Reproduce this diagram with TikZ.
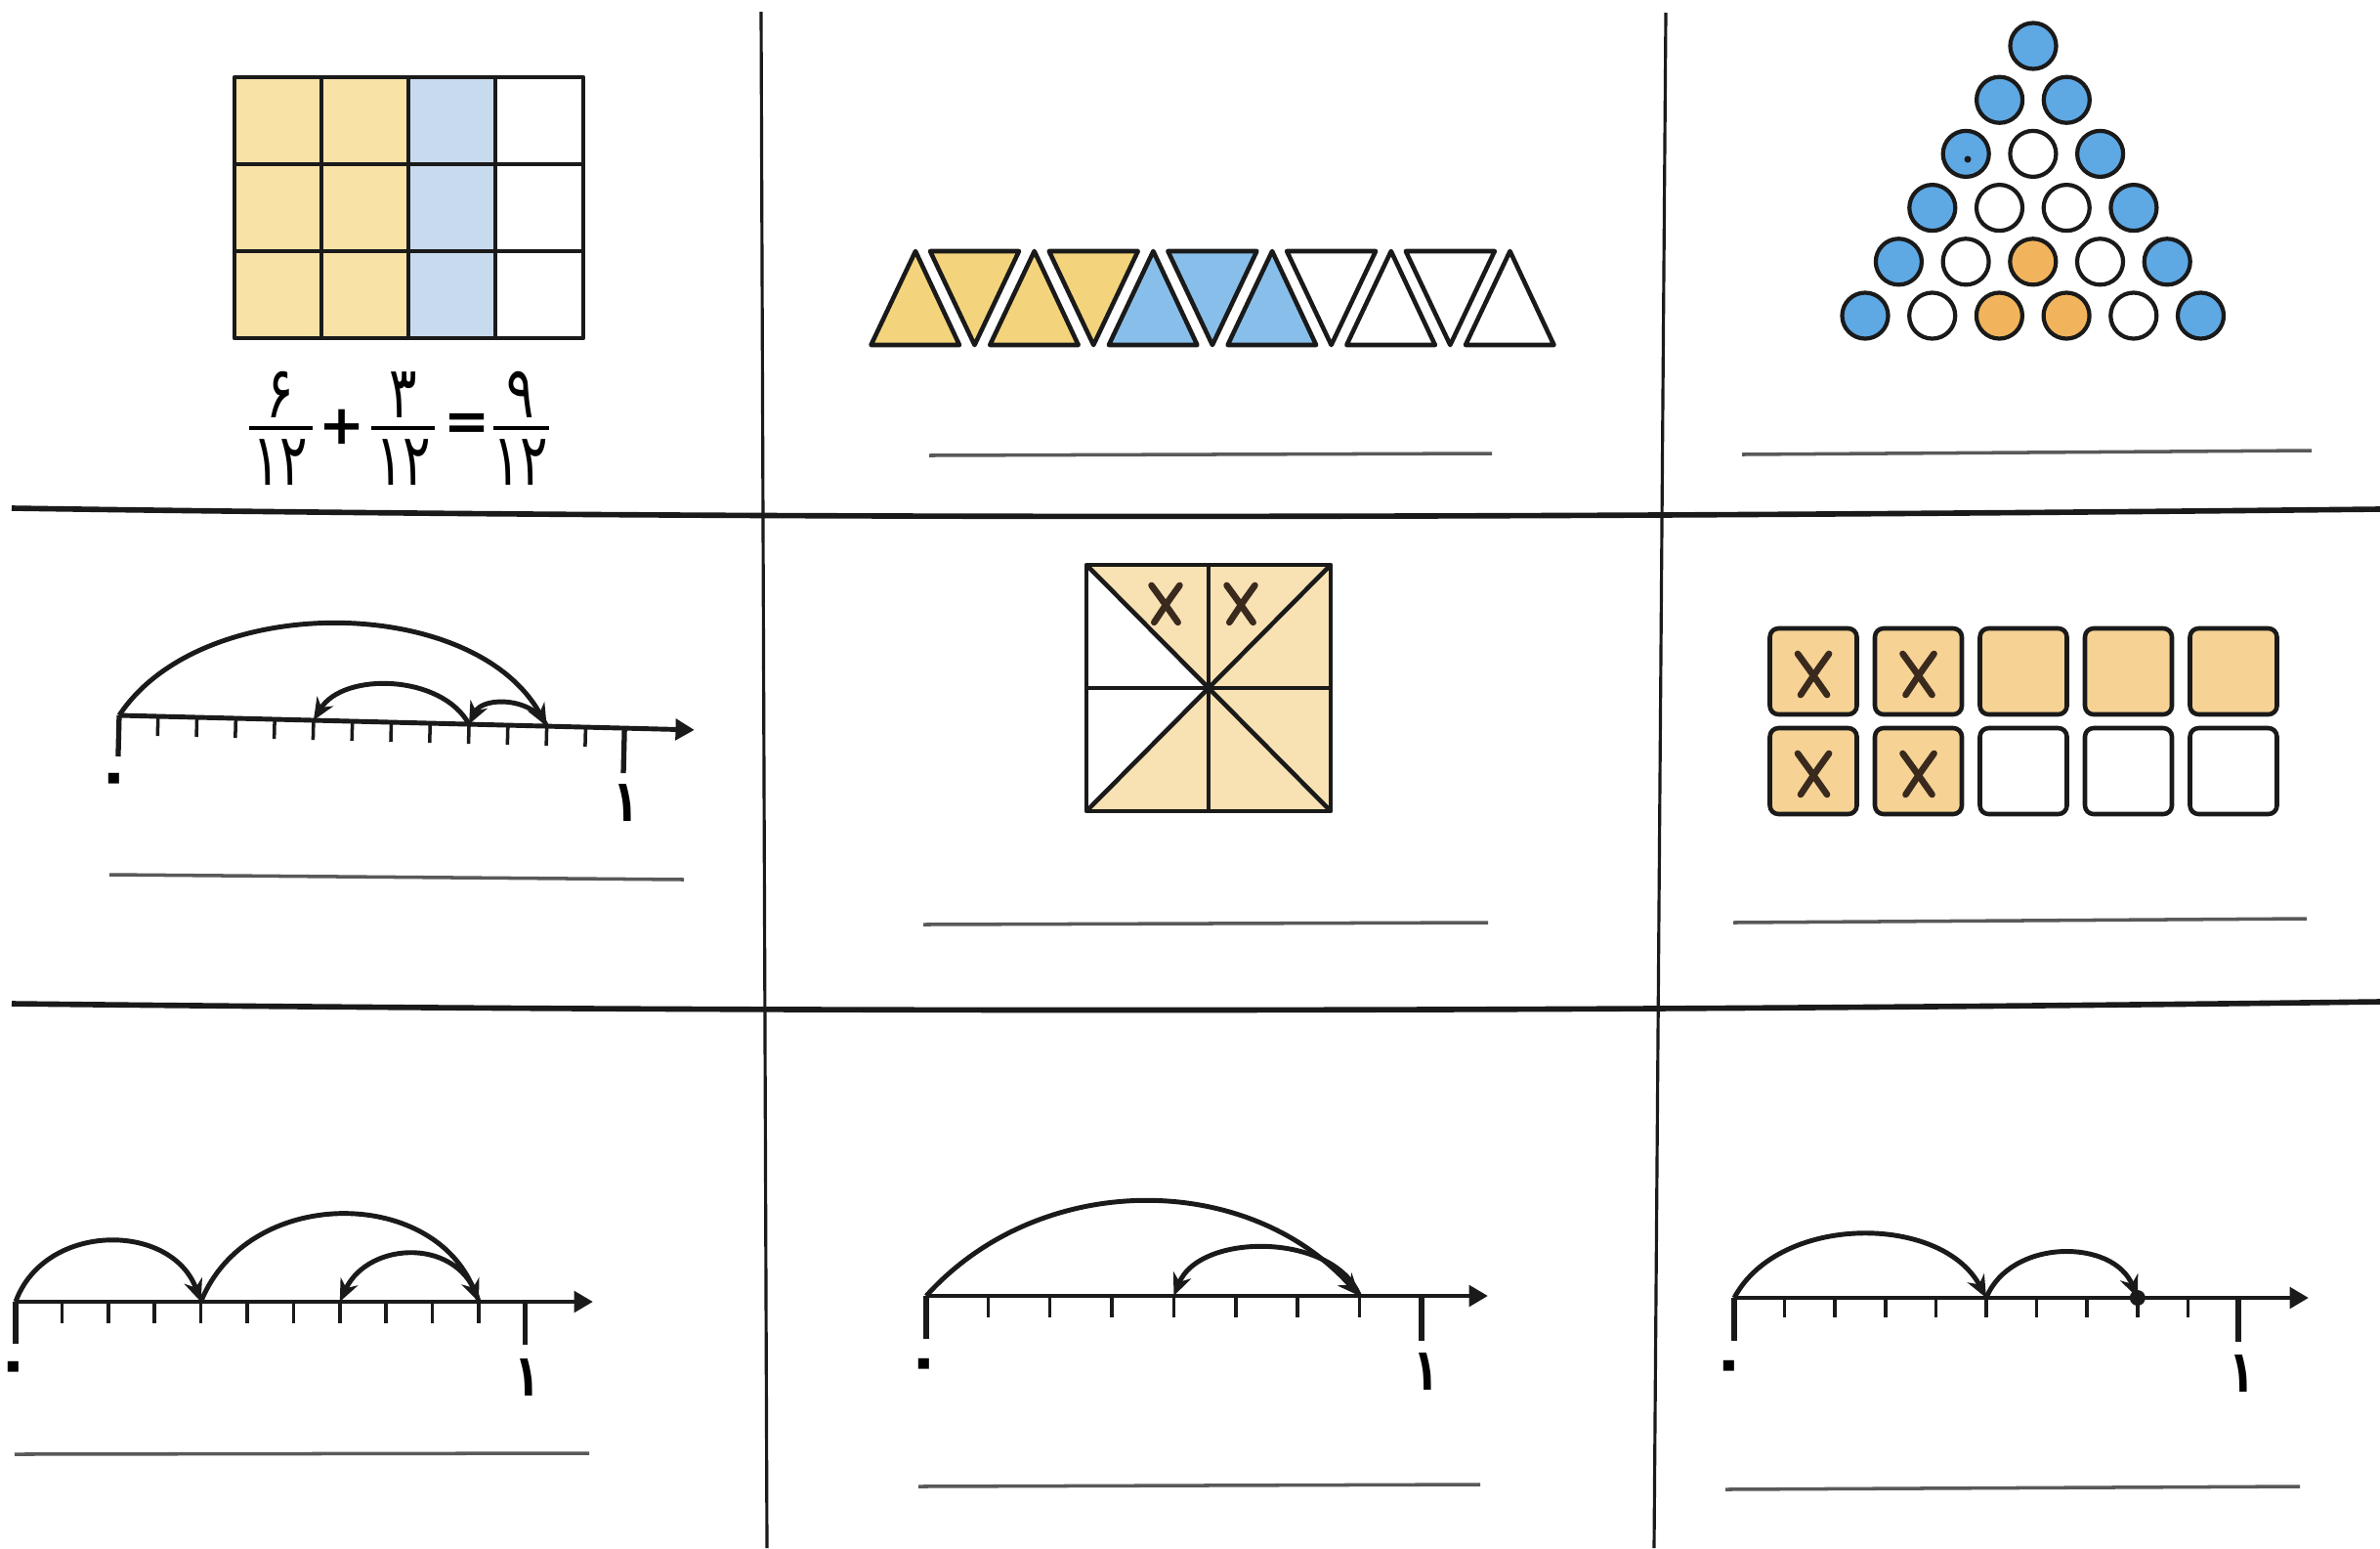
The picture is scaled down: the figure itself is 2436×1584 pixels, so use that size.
\documentclass[tikz,border=0pt]{standalone}
\usepackage{fontspec}
\newfontfamily\fa[Script=Arabic]{DejaVu Sans}
\newfontfamily\fan[Script=Arabic,FakeStretch=0.72]{DejaVu Sans}
\usetikzlibrary{arrows.meta}
\definecolor{ink}{HTML}{1A1A1A}
\definecolor{gridyel}{HTML}{F8E2A6}
\definecolor{gridblue}{HTML}{C8DBEE}
\definecolor{triyel}{HTML}{F3D47C}
\definecolor{triblue}{HTML}{88BFEA}
\definecolor{cB}{HTML}{5EA8E4}
\definecolor{cO}{HTML}{F1B45C}
\definecolor{cW}{HTML}{FFFFFF}
\definecolor{peach}{HTML}{F8E1B2}
\definecolor{tileyel}{HTML}{F6D394}
\definecolor{xink}{HTML}{3A2A1E}
\begin{document}
\begin{tikzpicture}[x=0.01cm,y=0.01cm,line join=round,
  frame/.style={line width=0.9pt,draw=ink},
  hrule/.style={line width=1.6pt,draw=ink},
  outl/.style={line width=1.3pt,draw=ink},
  ans/.style={line width=1pt,draw=black!65},
  axis/.style={line width=1.4pt,draw=ink,-{Triangle[length=5.5pt,width=6pt]}},
  tickm/.style={line width=1pt,draw=ink},
  bigtick/.style={line width=1.5pt,draw=ink},
  jump/.style={line width=1.4pt,draw=ink,-{Stealth[length=6.5pt,width=5.5pt]}},
  digit/.style={font=\fan\fontsize{21}{23}\selectfont,inner sep=0pt},
  sym/.style={font=\fa\bfseries\fontsize{16}{18}\selectfont,inner sep=0pt},
  lab/.style={font=\fan\bfseries\fontsize{17}{19}\selectfont,inner sep=0pt},
  zlab/.style={font=\fa\bfseries\fontsize{18}{20}\selectfont,inner sep=0pt},
  xstroke/.style={line width=1.9pt,line cap=round,draw=xink},
  xm/.pic={\draw[xstroke] (-16,20) .. controls (-5,5) .. (14,-22);
           \draw[xstroke] (16,20) .. controls (3,2) .. (-13,-22);}
]
\useasboundingbox (0,0) rectangle (2436,-1584);
\fill[white] (0,0) rectangle (2436,-1584);

% ---------- frame lines ----------
\coordinate (v1t) at (779,-12); \coordinate (v1b) at (785,-1584);
\coordinate (v2t) at (1705,-13); \coordinate (v2b) at (1693,-1584);
\draw[frame] (v1t) -- (v1b);
\draw[frame] (v2t) -- (v2b);
\coordinate (h1l) at (12,-520); \coordinate (h1r) at (2436,-521);
\draw[hrule] (h1l) .. controls (800,-532) and (1600,-530) .. (h1r);
\coordinate (h2l) at (12,-1027); \coordinate (h2r) at (2436,-1025);
\draw[hrule] (h2l) .. controls (800,-1036) and (1600,-1036) .. (h2r);

% ---------- panel 1: grid and fractions ----------
\fill[gridyel] (240,-79) rectangle (418,-346);
\fill[gridblue] (418,-79) rectangle (507,-346);
\draw[outl] (240,-79) rectangle (597,-346);
\foreach \x in {329,418,507} \draw[outl] (\x,-79) -- (\x,-346);
\foreach \y in {168,257} \draw[outl] (240,-\y) -- (597,-\y);

\node[digit] (n1) at (287,-404) {۶};
\node[digit] (d1) at (287,-473) {۱۲};
\draw[line width=1.4pt] (255,-438) -- (320,-438);
\node[sym] (plus) at (350,-437) {+};
\node[digit] (n2) at (413,-404) {۳};
\node[digit] (d2) at (413,-473) {۱۲};
\draw[line width=1.4pt] (380,-438) -- (445,-438);
\node[sym] (eq) at (478,-437) {=};
\node[digit] (n3) at (533,-404) {۹};
\node[digit] (d3) at (533,-473) {۱۲};
\draw[line width=1.4pt] (505,-438) -- (562,-438);

% ---------- panel 2: triangles ----------
\foreach \i/\c in {0/triyel,1/triyel,2/triblue,3/triblue,4/white,5/white}
  \filldraw[outl,fill=\c] ({891.5+121.7*\i},-353) -- ({937+121.7*\i},-257) -- ({982+121.7*\i},-353) -- cycle;
\foreach \j/\c in {0/triyel,1/triyel,2/triblue,3/white,4/white}
  \filldraw[outl,fill=\c] ({952+121.7*\j},-257) -- ({1043+121.7*\j},-257) -- ({997.5+121.7*\j},-353) -- cycle;
\draw[ans] (951,-466) -- (1527,-464);

% ---------- panel 3: triangle of dots ----------
\foreach \r/\cols in {0/{cB},1/{cB,cB},2/{cB,cW,cB},3/{cB,cW,cW,cB},4/{cB,cW,cO,cW,cB},5/{cB,cW,cO,cO,cW,cB}}
  \foreach \c [count=\k from 0] in \cols
    \filldraw[line width=1.2pt,draw=ink,fill=\c] ({2081-34.4*\r+68.7*\k},{-47-55.2*\r}) circle[radius=0.235cm];
\fill[ink] (2014,-163) circle[radius=0.035cm];
\draw[ans] (1783,-465) -- (2366,-461);

% ---------- panel 4: number line (13 parts) ----------
\begin{scope}[rotate around={-1.45:(122,-732)}]
  \foreach \k in {0,...,13} \coordinate (a\k) at ({122+39.8*\k},-732);
  \coordinate (aend) at (711,-732);
  \draw[axis] (a0) -- (aend);
  \foreach \k in {1,...,12} \draw[tickm] (a\k) -- ++(0,-20);
  \draw[bigtick] (a0) -- ++(0,-42);
  \draw[bigtick] (a13) -- ++(0,-46);
  \node[zlab] (a0l) at (119,-803) {۰};
  \node[lab] (a1l) at (643,-808) {۱};
  \draw[jump] (a0) to[out=58,in=120,looseness=0.9] (a11);
  \draw[jump] (a11) to[out=115,in=65,looseness=1.04] (a9);
  \draw[jump] (a9) to[out=120,in=60,looseness=0.94] (a5);
\end{scope}
\draw[ans] (112,-895) -- (700,-900);

% ---------- panel 5: square in eighths ----------
\coordinate (TL) at (1112,-578); \coordinate (TR) at (1362,-578);
\coordinate (BL) at (1112,-830); \coordinate (BR) at (1362,-830);
\coordinate (T) at (1237,-578); \coordinate (B) at (1237,-830);
\coordinate (L) at (1112,-704); \coordinate (R) at (1362,-704);
\coordinate (C) at (1237,-704);
\fill[peach] (T) -- (TL) -- (C) -- cycle;
\fill[peach] (T) -- (TR) -- (R) -- (C) -- cycle;
\fill[peach] (C) -- (R) -- (BR) -- (B) -- cycle;
\fill[peach] (C) -- (B) -- (BL) -- cycle;
\draw[outl] (TL) rectangle (BR);
\draw[outl] (T) -- (B);
\draw[outl] (L) -- (R);
\draw[outl] (TL) -- (BR);
\draw[outl] (TR) -- (BL);
\fill[ink] (C) circle[radius=0.05cm];
\pic[scale=0.9] at (1193,-617) {xm};
\pic[scale=0.9] at (1270,-617) {xm};
\draw[ans] (945,-946) -- (1523,-944);

% ---------- panel 6: tiles ----------
\foreach \i in {0,...,4}
  \foreach \j in {0,1} {
    \pgfmathsetmacro{\cx}{1856+107.5*\i}
    \pgfmathsetmacro{\cy}{-687-102*\j}
    \ifnum\j=0 \def\tc{tileyel}\else\ifnum\i<2 \def\tc{tileyel}\else\def\tc{white}\fi\fi
    \filldraw[outl,fill=\tc,rounded corners=2.5pt] ({\cx-44.5},{\cy+44}) rectangle ({\cx+44.5},{\cy-44});
  }
\foreach \i in {0,1} \foreach \j in {0,1}
  \pic at ({1856+107.5*\i},{-689-102*\j}) {xm};
\draw[ans] (1774,-944) -- (2361,-940);

% ---------- panel 7: number line (11 parts) ----------
\foreach \k in {0,...,11} \coordinate (b\k) at ({16+47.4*\k},-1332);
\coordinate (bend) at (607,-1332);
\draw[axis] (b0) -- (bend);
\foreach \k in {1,...,10} \draw[tickm] (b\k) -- ++(0,-22);
\draw[bigtick] (b0) -- ++(0,-43);
\draw[bigtick] (b11) -- ++(0,-44);
\node[zlab] (b0l) at (14,-1405) {۰};
\node[lab] (b1l) at (540,-1410) {۱};
\draw[jump] (b0) to[out=70,in=110,looseness=1.18] (b4);
\draw[jump] (b4) to[out=68,in=112,looseness=1.15] (b10);
\draw[jump] (b10) to[out=105,in=65,looseness=1.25] (b7);
\draw[ans] (15,-1488) -- (603,-1487);

% ---------- panel 8: number line (8 parts) ----------
\foreach \k in {0,...,8} \coordinate (c\k) at ({948+63.36*\k},-1326);
\coordinate (cend) at (1523,-1326);
\draw[axis] (c0) -- (cend);
\foreach \k in {1,...,7} \draw[tickm] (c\k) -- ++(0,-22);
\draw[bigtick] (c0) -- ++(0,-44);
\draw[bigtick] (c8) -- ++(0,-46);
\node[zlab] (c0l) at (946,-1402) {۰};
\node[lab] (c1l) at (1460,-1404) {۱};
\draw[jump] (c0) to[out=48,in=132,looseness=1.0] (c7);
\draw[jump] (c7) to[out=112,in=68,looseness=0.95] (c4);
\draw[ans] (940,-1521) -- (1515,-1519);

% ---------- panel 9: number line (10 parts) ----------
\foreach \k in {0,...,10} \coordinate (e\k) at ({1775+51.6*\k},-1328);
\coordinate (eend) at (2363,-1328);
\draw[axis] (e0) -- (eend);
\foreach \k in {1,...,9} \draw[tickm] (e\k) -- ++(0,-20);
\draw[bigtick] (e0) -- ++(0,-44);
\draw[bigtick] (e10) -- ++(0,-45);
\node[zlab] (e0l) at (1770,-1404) {۰};
\node[lab] (e1l) at (2295,-1406) {۱};
\draw[jump] (e0) to[out=62,in=118,looseness=0.97] (e5);
\draw[jump] (e5) to[out=68,in=112,looseness=1.09] (e8);
\fill[ink] (e8) circle[radius=0.08cm];
\draw[ans] (1766,-1524) -- (2354,-1521);
\end{tikzpicture}
\end{document}
